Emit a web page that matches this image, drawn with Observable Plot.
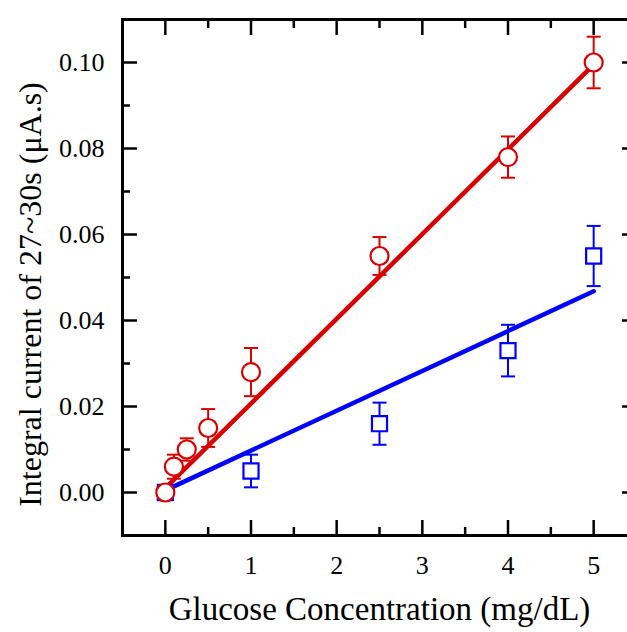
<!DOCTYPE html>
<html>
<head>
<meta charset="utf-8">
<script src="https://cdn.jsdelivr.net/npm/d3@7"></script>
<script src="https://cdn.jsdelivr.net/npm/@observablehq/plot@0.6"></script>
<style>
  html, body { margin: 0; padding: 0; background: #fff; overflow: hidden; }
  #chart { width: 627px; height: 632px; overflow: hidden; }
  #chart svg { max-width: none !important; width: 640px; height: 632px; }
</style>
</head>
<body>
<div id="chart"></div>
<script>
// ---- data ----
const xTicks = [0, 1, 2, 3, 4, 5];
const xMinor = [0.5, 1.5, 2.5, 3.5, 4.5];
const yTicks = [0, 0.02, 0.04, 0.06, 0.08, 0.10];
const yMinor = [0.01, 0.03, 0.05, 0.07, 0.09];

const redConc = [0, 0.1, 0.25, 0.5, 1, 2.5, 4, 5];
const redY    = [0, 0.006, 0.010, 0.015, 0.028, 0.055, 0.078, 0.100];
const redErr  = [0.0008, 0.0028, 0.0026, 0.0044, 0.0056, 0.0044, 0.0048, 0.006];

const blueConc = [0, 1, 2.5, 4, 5];
const blueY    = [0, 0.005, 0.016, 0.033, 0.055];
const blueErr  = [0.0008, 0.0038, 0.0049, 0.006, 0.007];

const fitX    = [0, 5];
const redFit  = [0.001, 0.0995];
const blueFit = [0.0005, 0.0468];

const xTitle = "Glucose Concentration (mg/dL)";
const yTitle = "Integral current of 27~30s (μA.s)";

// ---- tables ----
const red = redConc.map((x, i) => ({x, y: redY[i], lo: redY[i] - redErr[i], hi: redY[i] + redErr[i]}));
const blue = blueConc.map((x, i) => ({x, y: blueY[i], lo: blueY[i] - blueErr[i], hi: blueY[i] + blueErr[i]}));
const redLine = fitX.map((x, i) => ({x, y: redFit[i]}));
const blueLine = fitX.map((x, i) => ({x, y: blueFit[i]}));

const RED = "#d80000", BLUE = "#0000ff";
const capSymbol = {
  draw(context, size) {
    const r = Math.sqrt(size / Math.PI);
    context.moveTo(-r, 0);
    context.lineTo(r, 0);
  }
};
const font = "Liberation Serif, Times New Roman, serif";
const fmt = d3.format(".2f");

function errMarks(data, color) {
  return [
    Plot.ruleX(data, {x: "x", y1: "lo", y2: "hi", stroke: color, strokeWidth: 2}),
    Plot.dot(data, {x: "x", y: "hi", symbol: capSymbol, r: 7, stroke: color, strokeWidth: 2, fill: "none"}),
    Plot.dot(data, {x: "x", y: "lo", symbol: capSymbol, r: 7, stroke: color, strokeWidth: 2, fill: "none"})
  ];
}

const major = 15, minor = 8, tw = 2.5;
const plot = Plot.plot({
  width: 640,
  height: 632,
  marginLeft: 122,
  marginRight: 4,
  marginTop: 19,
  marginBottom: 97,
  style: {fontFamily: font, color: "#000", background: "#fff", overflow: "visible", maxWidth: "none"},
  x: {domain: [-0.5, 5.5]},
  y: {domain: [-0.01, 0.11]},
  marks: [
    // ticks (inward)
    Plot.axisX(xTicks, {anchor: "bottom", tickSize: major, dy: -major, strokeWidth: tw, fill: "none", label: null}),
    Plot.axisX(xMinor, {anchor: "bottom", tickSize: minor, dy: -minor, strokeWidth: tw, fill: "none", label: null}),
    Plot.axisX(xTicks, {anchor: "top", tickSize: major, dy: major, strokeWidth: tw, fill: "none", label: null}),
    Plot.axisX(xMinor, {anchor: "top", tickSize: minor, dy: minor, strokeWidth: tw, fill: "none", label: null}),
    Plot.axisY(yTicks, {anchor: "left", tickSize: major, dx: major, strokeWidth: tw, fill: "none", label: null}),
    Plot.axisY(yMinor, {anchor: "left", tickSize: minor, dx: minor, strokeWidth: tw, fill: "none", label: null}),
    Plot.axisY(yTicks, {anchor: "right", tickSize: major, dx: -major, strokeWidth: tw, fill: "none", label: null}),
    Plot.axisY(yMinor, {anchor: "right", tickSize: minor, dx: -minor, strokeWidth: tw, fill: "none", label: null}),
    // tick labels
    Plot.axisX(xTicks, {anchor: "bottom", tickSize: 0, tickPadding: 20, fontSize: 26, label: null, tickFormat: d => String(d)}),
    Plot.axisY(yTicks, {anchor: "left", tickSize: 0, tickPadding: 18, fontSize: 26, label: null, tickFormat: fmt}),
    // titles
    Plot.text([xTitle], {text: d => d, frameAnchor: "bottom", dy: 74, fontSize: 33, textAnchor: "middle", lineAnchor: "middle", fill: "#000"}),
    Plot.text([yTitle], {text: d => d, frameAnchor: "left", rotate: -90, dx: -92, dy: 17, fontSize: 32, textAnchor: "middle", lineAnchor: "middle", fill: "#000"}),
    // fit lines
    Plot.line(blueLine, {x: "x", y: "y", stroke: BLUE, strokeWidth: 4.5}),
    Plot.line(redLine, {x: "x", y: "y", stroke: RED, strokeWidth: 4.5}),
    // error bars
    ...errMarks(blue, BLUE),
    ...errMarks(red, RED),
    // markers
    Plot.dot(blue, {x: "x", y: "y", symbol: "square", r: 8.5, stroke: BLUE, strokeWidth: 2.2, fill: "#fff"}),
    Plot.dot(red, {x: "x", y: "y", symbol: "circle", r: 9, stroke: RED, strokeWidth: 2.2, fill: "#fff"}),
    Plot.frame({stroke: "#000", strokeWidth: 3})
  ]
});
document.getElementById("chart").append(plot);
</script>
</body>
</html>
